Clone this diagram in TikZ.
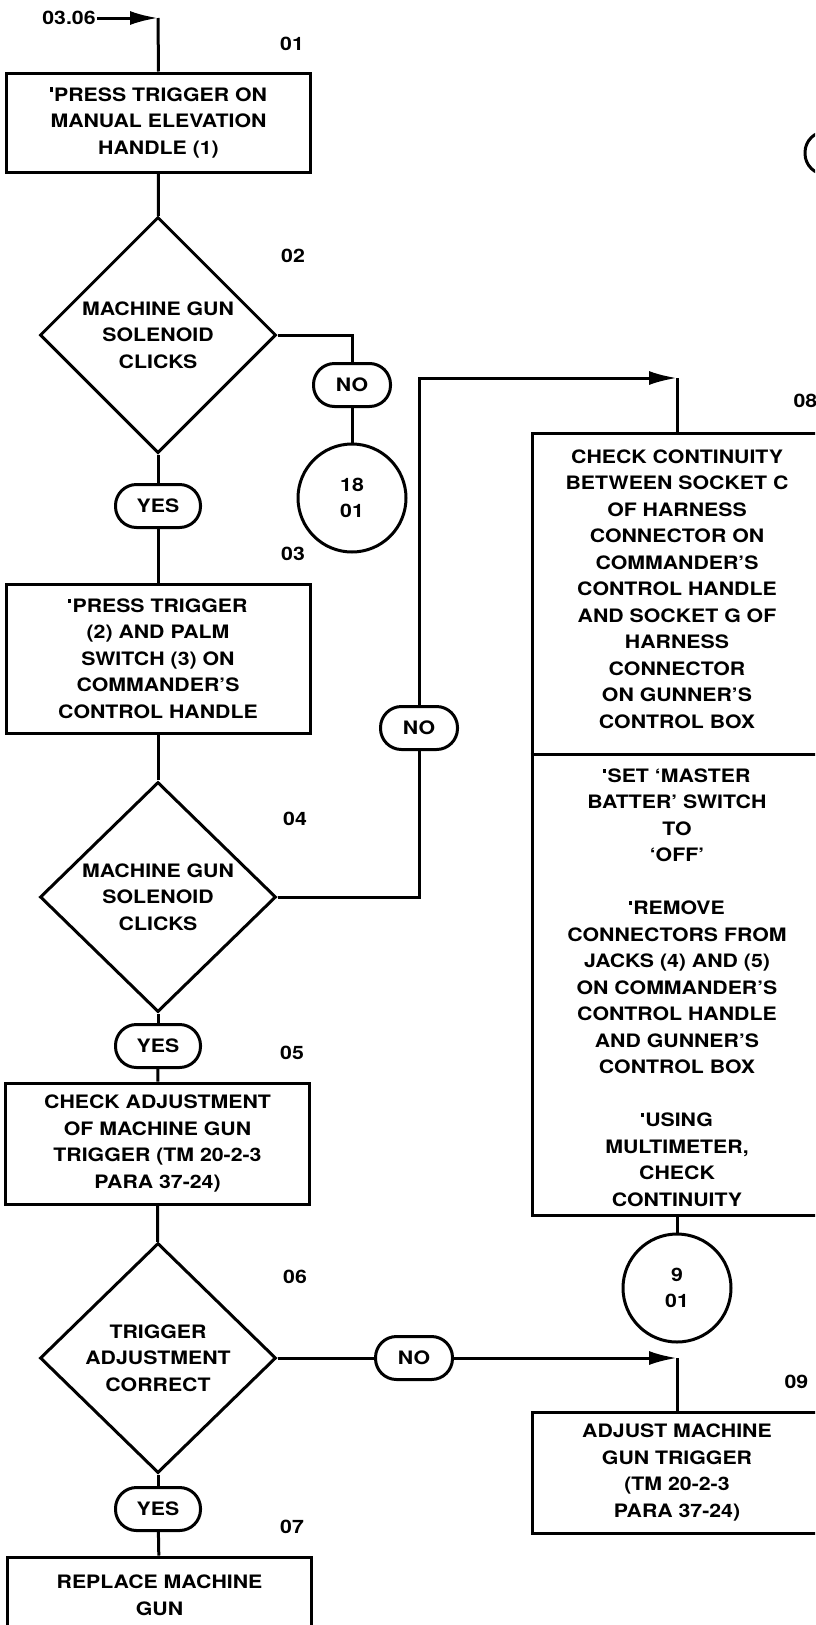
\documentclass[tikz,border=0pt]{standalone}
\usepackage{fontspec}
\newfontfamily\hf{TeX Gyre Heros}[FakeStretch=1.15]
\usetikzlibrary{arrows.meta,shapes.geometric}
\newcommand\bul{\rule[9.5pt]{2.6pt}{4.2pt}\hspace{1.5pt}}
\begin{document}
\begin{tikzpicture}[x=1pt,y=-1pt,line width=3pt,
  txt/.style={font=\hf\bfseries\fontsize{18.5}{26.5}\selectfont,align=center,inner sep=0pt},
  proc/.style={draw,txt,rectangle,minimum width=304pt},
  dec/.style={draw,txt,diamond,aspect=1,minimum width=236pt,minimum height=230pt},
  term/.style={draw,txt,rectangle,rounded corners=21pt,minimum height=43pt},
  conn/.style={draw,txt,circle,minimum size=108pt},
  num/.style={txt},
  arr/.style={-{Latex[length=28pt,width=14pt]}}]
\useasboundingbox (0,0) rectangle (815,1625);
\clip (0,0) rectangle (815,1625);

% step numbers
\node[num] (src) at (69,18) {03.06};
\node[num] (n01) at (292,44) {01};
\node[num] (n02) at (293,256) {02};
\node[num] (n03) at (293,554) {03};
\node[num] (n04) at (295,819) {04};
\node[num] (n05) at (292,1053) {05};
\node[num] (n06) at (295,1277) {06};
\node[num] (n07) at (292,1527) {07};
\node[num,anchor=west] (n08) at (792,401) {08};
\node[num,anchor=west] (n09) at (783,1382) {09};

% left column
\node[proc,minimum height=99pt] (b01) at (158.5,122.5) {\bul PRESS TRIGGER ON\\MANUAL ELEVATION\\HANDLE (1)};
\node[dec,minimum height=236pt] (d02) at (158,335) {MACHINE GUN\\SOLENOID\\CLICKS};
\node[term,minimum width=85pt] (y02) at (158,506) {YES};
\node[proc,minimum height=149pt] (b03) at (158,658.5) {\bul PRESS TRIGGER\\(2) AND PALM\\SWITCH (3) ON\\COMMANDER’S\\CONTROL HANDLE};
\node[dec] (d04) at (158,897) {MACHINE GUN\\SOLENOID\\CLICKS};
\node[term,minimum width=85pt] (y04) at (158,1046) {YES};
\node[proc,minimum height=121pt] (b05) at (157.5,1143.5) {CHECK ADJUSTMENT\\OF MACHINE GUN\\TRIGGER (TM 20-2-3\\PARA 37-24)};
\node[dec] (d06) at (158,1358) {TRIGGER\\ADJUSTMENT\\CORRECT};
\node[term,minimum width=85pt] (y06) at (158,1509) {YES};
\node[proc,minimum height=76pt] (b07) at (159.5,1595) {REPLACE MACHINE\\GUN};

% middle
\node[term,minimum width=77pt] (no02) at (352,385) {NO};
\node[conn] (c18) at (352,498) {18\\01};
\node[term,minimum width=77pt] (no04) at (419,728) {NO};
\node[term,minimum width=77pt] (no06) at (414,1358) {NO};

% right column
\node[draw,rectangle,minimum width=290pt,minimum height=782pt] (b08) at (677,824) {};
\coordinate (div) at (677,754);
\draw (b08.west |- div) -- (b08.east |- div);
\node[txt,anchor=north] (t08a) at (677,448) {CHECK CONTINUITY\\BETWEEN SOCKET C\\OF HARNESS\\CONNECTOR ON\\COMMANDER’S\\CONTROL HANDLE\\AND SOCKET G OF\\HARNESS\\CONNECTOR\\ON GUNNER’S\\CONTROL BOX};
\node[txt,anchor=north] (t08b) at (677,767) {\bul SET ‘MASTER\\BATTER’ SWITCH\\TO\\‘OFF’\\[26.5pt]\bul REMOVE\\CONNECTORS FROM\\JACKS (4) AND (5)\\ON COMMANDER’S\\CONTROL HANDLE\\AND GUNNER’S\\CONTROL BOX\\[26.5pt]\bul USING\\MULTIMETER,\\CHECK\\CONTINUITY};
\node[conn] (c9) at (677,1288) {9\\01};
\node[proc,minimum width=290pt,minimum height=121pt] (b09) at (677,1472.5) {ADJUST MACHINE\\GUN TRIGGER\\(TM 20-2-3\\PARA 37-24)};
\node[term,minimum width=80pt] (offr) at (845,153) {};

% connectors
\coordinate (c0) at (158,18);
\coordinate (c08) at (677,378);
\coordinate (c09) at (677,1358);
\draw[arr] (src) -- (c0);
\draw (c0) -- (b01.north);
\draw (b01) -- (d02);
\draw (d02) -- (y02);
\draw (y02) -- (b03);
\draw (d02.east) -| (no02.north);
\draw (no02) -- (c18);
\draw (b03) -- (d04);
\draw (d04) -- (y04);
\draw (y04) -- (b05);
\draw (d04.east) -| (no04.south);
\draw[arr] (no04.north) |- (c08);
\draw (c08) -- (b08.north);
\draw (b08.south) -- (c9.north);
\draw (b05) -- (d06);
\draw (d06) -- (y06);
\draw (y06) -- (b07);
\draw (d06.east) -- (no06.west);
\draw[arr] (no06.east) -- (c09);
\draw (c09) -- (b09.north);
\end{tikzpicture}
\end{document}
